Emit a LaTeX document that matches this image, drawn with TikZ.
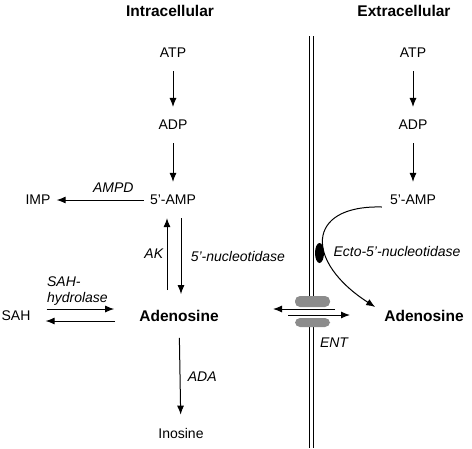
\documentclass[tikz,border=0pt]{standalone}
\usepackage{fontspec}
\setmainfont{Liberation Sans}
\usetikzlibrary{positioning, calc, arrows.meta}

\begin{document}
\begin{tikzpicture}[
      x=1pt, y=-1pt,
      metab/.style={font=\fontsize{14}{16}\selectfont, inner xsep=6pt, inner ysep=13pt},
      head/.style={font=\fontsize{15.5}{18}\selectfont\bfseries},
      main/.style={metab, font=\fontsize{15.5}{18}\selectfont\bfseries, inner ysep=16pt},
      enzyme/.style={font=\fontsize{14}{16}\selectfont\itshape},
      flow/.style={-{Latex[length=9pt, width=7pt]}, line width=1pt},
      membrane/.style={double distance=3.4pt, line width=1.1pt},
      protein/.style={fill=black!45, rounded corners=5pt}
   ]
   \useasboundingbox (0,0) rectangle (472,448);

   % Compartments
   \node[head] (intra) at (170,11) {Intracellular};
   \node[head] (extra) at (404,11) {Extracellular};

   % Membrane
   \coordinate (mtop) at (311.5,36);
   \coordinate (mbot) at (311.5,448);
   \coordinate (ment) at (311.5,312);
   \draw[membrane] (mtop) -- ($(ment)+(0,-12)$);
   \draw[membrane] ($(ment)+(0,12)$) -- (mbot);

   % Intracellular pathway
   \node[metab] (atp) at (173,53) {ATP};
   \node[metab] (adp) at (173,125) {ADP};
   \node[metab] (amp) at (173,200) {5'-AMP};
   \node[metab] (imp) at (38,200) {IMP};
   \node[main] (ado) at (179,316) {Adenosine};
   \node[metab] (sah) at (16,316) {SAH};
   \node[metab] (ino) at (181,433) {Inosine};

   \draw[flow] (atp) -- (adp);
   \draw[flow] (adp) -- (amp);
   \draw[flow] (amp) -- node[above=4pt, enzyme, pos=0.35] {AMPD} (imp);

   % AK and 5'-nucleotidase
   \draw[flow] ($(ado.north)+(-12,-4)$) -- node[left, enzyme] {AK} ($(amp.south)+(-6,0)$);
   \draw[flow] ($(amp.south)+(8,0)$) -- node[right=6pt, enzyme] {5'-nucleotidase} ($(ado.north)+(2,0)$);

   % SAH-hydrolase
   \draw[flow] ($(sah.east)+(10,-7)$) -- node[pos=0, anchor=south west, enzyme, align=left, inner xsep=0pt] {SAH-\\hydrolase} ($(ado.west)+(-19,-7)$);
   \draw[flow] ($(ado.west)+(-18,5)$) -- ($(sah.east)+(9,5)$);

   % ADA
   \draw[flow] (ado) -- node[right=4pt, enzyme] {ADA} (ino);

   % Extracellular pathway
   \node[metab] (eatp) at (413,53) {ATP};
   \node[metab] (eadp) at (413,125) {ADP};
   \node[metab] (eamp) at (413,200) {5'-AMP};
   \node[main] (eado) at (424,316) {Adenosine};

   \draw[flow] (eatp) -- (eadp);
   \draw[flow] (eadp) -- (eamp);

   % Ecto-5'-nucleotidase
   \fill (319.5,253) ellipse (4.5 and 10);
   \node[enzyme, anchor=west] (ecto) at (330,251) {Ecto-5'-nucleotidase};
   \draw[flow] ($(eamp.west)+(-2,7)$) .. controls (305,205) and (305,262) .. ($(eado.west)+(-3,-9)$);

   % ENT
   \fill[protein] (295,296) rectangle (330,307);
   \fill[protein] (295,318) rectangle (330,327);
   \coordinate (ent in a) at (335,309);
   \coordinate (ent in b) at (273,309);
   \coordinate (ent out a) at (288,315);
   \coordinate (ent out b) at (350,315);
   \draw[flow] (ent in a) -- (ent in b);
   \draw[flow] (ent out a) -- (ent out b);
   \node[enzyme] (ent) at (334,343) {ENT};
\end{tikzpicture}
\end{document}
